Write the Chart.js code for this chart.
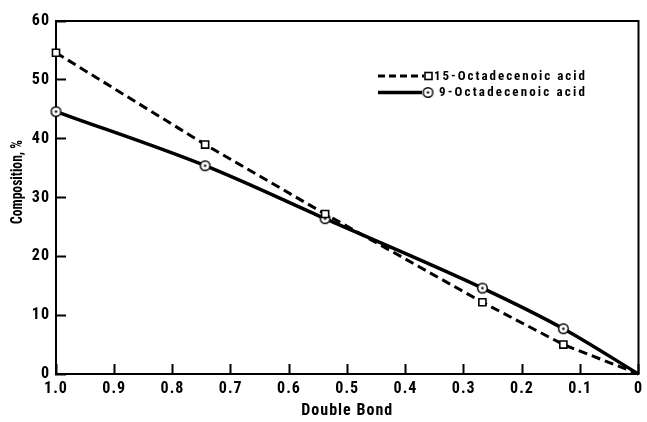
<!DOCTYPE html>
<html><head><meta charset="utf-8">
<script src="https://cdn.jsdelivr.net/npm/chart.js@4"></script>
<style>html,body{margin:0;padding:0;background:#fff}canvas{display:block}</style>
</head><body>
<canvas id="c" width="647" height="422"></canvas>
<script>
// ---- data ----
const doubleBond = [1.0, 0.744, 0.538, 0.268, 0.129, 0];
const acid15 = [54.6, 39.0, 27.2, 12.2, 5.0, 0];
const acid9 = [44.6, 35.4, 26.4, 14.6, 7.7, 0];
const seriesNames = ['15-Octadecenoic acid', '9-Octadecenoic acid'];
const xTickValues = [1.0, 0.9, 0.8, 0.7, 0.6, 0.5, 0.4, 0.3, 0.2, 0.1, 0];
const xTickLabels = ['1.0', '0.9', '0.8', '0.7', '0.6', '0.5', '0.4', '0.3', '0.2', '0.1', '0'];
const yTickValues = [0, 10, 20, 30, 40, 50, 60];
const xTitle = 'Double Bond';
const yTitle = 'Composition, %';

const FONT = "'Roboto Condensed', 'PT Sans Narrow', 'Archivo Narrow', 'DejaVu Sans Condensed', sans-serif";
Chart.defaults.font.family = FONT;
Chart.defaults.font.weight = 'bold';
Chart.defaults.color = '#000';

function circleDot() {
  const c = document.createElement('canvas');
  c.width = 13; c.height = 13;
  const g = c.getContext('2d');
  g.fillStyle = '#fff';
  g.beginPath(); g.arc(6.5, 6.5, 4.8, 0, Math.PI * 2); g.fill();
  g.lineWidth = 1.4; g.strokeStyle = '#000'; g.stroke();
  g.fillStyle = '#000';
  g.beginPath(); g.arc(6.5, 6.5, 1.2, 0, Math.PI * 2); g.fill();
  return c;
}
const dotImg = circleDot();
const markerRadius = doubleBond.map(v => v === 0 ? 0 : 5);

const spacingPlugin = {
  id: 'spacing',
  beforeUpdate(chart) { chart.ctx.letterSpacing = '1px'; },
  beforeDraw(chart) { chart.ctx.letterSpacing = '1px'; }
};

function fitText(ctx, text, x, y, width) {
  ctx.letterSpacing = '0px';
  const w0 = ctx.measureText(text).width;
  const sp = Math.max(0, (width - w0) / text.length);
  ctx.letterSpacing = sp.toFixed(2) + 'px';
  ctx.fillText(text, x, y);
}

const framePlugin = {
  id: 'frame',
  afterDraw(chart) {
    const {ctx, chartArea: a} = chart;
    ctx.save();
    ctx.strokeStyle = '#000'; ctx.lineWidth = 2;
    ctx.beginPath();
    ctx.moveTo(a.left, a.top); ctx.lineTo(a.right, a.top); ctx.lineTo(a.right, a.bottom);
    ctx.stroke();
    // y axis title (condensed to the reference length)
    ctx.translate(18, 182);
    ctx.rotate(-Math.PI / 2);
    ctx.letterSpacing = '0px';
    ctx.font = 'bold 17px ' + FONT;
    const tw = ctx.measureText(yTitle).width;
    ctx.scale(Math.min(1, 84 / tw), 1);
    ctx.fillStyle = '#000';
    ctx.textAlign = 'center'; ctx.textBaseline = 'middle';
    ctx.fillText(yTitle, 0, 0);
    ctx.restore();

    // legend
    ctx.save();
    ctx.strokeStyle = '#000'; ctx.fillStyle = '#000';
    ctx.font = 'bold 13px ' + FONT;
    ctx.textAlign = 'left'; ctx.textBaseline = 'middle';
    // row 1
    ctx.lineWidth = 3; ctx.setLineDash([7, 4]);
    ctx.beginPath(); ctx.moveTo(378, 76); ctx.lineTo(424, 76); ctx.stroke();
    ctx.setLineDash([]);
    ctx.lineWidth = 1.6; ctx.fillStyle = '#fff';
    ctx.fillRect(425, 72.5, 7, 7); ctx.strokeRect(425, 72.5, 7, 7);
    ctx.fillStyle = '#000';
    fitText(ctx, seriesNames[0], 434, 77, 153);
    // row 2
    ctx.lineWidth = 3.5;
    ctx.beginPath(); ctx.moveTo(378, 92.5); ctx.lineTo(422, 92.5); ctx.stroke();
    ctx.drawImage(dotImg, 428 - 6.5, 92.5 - 6.5);
    fitText(ctx, seriesNames[1], 439, 93, 148);
    ctx.restore();
  }
};

new Chart(document.getElementById('c'), {
  type: 'line',
  data: {
    datasets: [
      {
        label: seriesNames[0],
        data: doubleBond.map((x, i) => ({x, y: acid15[i]})),
        borderColor: '#000', borderWidth: 3, borderDash: [9, 5],
        pointStyle: 'rect', pointRadius: markerRadius, pointBorderWidth: 1.6,
        pointBackgroundColor: '#fff', pointBorderColor: '#000',
        tension: 0, fill: false, clip: 8
      },
      {
        label: seriesNames[1],
        data: doubleBond.map((x, i) => ({x, y: acid9[i]})),
        borderColor: '#000', borderWidth: 3.5,
        pointStyle: dotImg, pointRadius: markerRadius,
        cubicInterpolationMode: 'monotone', fill: false, clip: 8
      }
    ]
  },
  options: {
    responsive: false, animation: false,
    layout: {padding: {top: 21, right: 5, bottom: 0, left: 0}},
    plugins: {legend: {display: false}, tooltip: {enabled: false}},
    scales: {
      x: {
        type: 'linear', reverse: true, min: 0, max: 1,
        afterBuildTicks: s => { s.ticks = xTickValues.map(v => ({value: v})); },
        ticks: {callback: (v, i) => xTickLabels[i], font: {size: 16, weight: 'bold'}, padding: 15,
                maxRotation: 0, autoSkip: false, color: '#000'},
        grid: {drawOnChartArea: false, tickLength: -10, tickWidth: 2, color: '#000'},
        border: {width: 2, color: '#000'},
        title: {display: true, text: xTitle, font: {size: 16, weight: 'bold'}, padding: {top: 0, bottom: 1}, color: '#000'},
        afterFit: s => { s.height = 48; s.paddingLeft = 0; s.paddingRight = 0; }
      },
      y: {
        min: 0, max: 60,
        afterBuildTicks: s => { s.ticks = yTickValues.map(v => ({value: v})); },
        ticks: {font: {size: 16, weight: 'bold'}, padding: 16, color: '#000'},
        grid: {drawOnChartArea: false, tickLength: -10, tickWidth: 2, color: '#000'},
        border: {width: 2, color: '#000'},
        afterFit: s => { s.width = 56; s.paddingTop = 0; s.paddingBottom = 0; }
      }
    }
  },
  plugins: [spacingPlugin, framePlugin]
});
</script>
</body></html>
